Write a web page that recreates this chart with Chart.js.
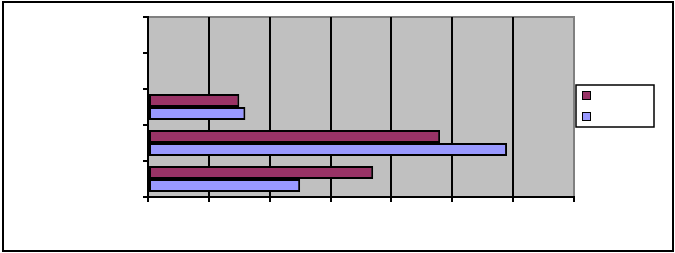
<!DOCTYPE html>
<html>
<head>
<meta charset="utf-8">
<script src="https://cdn.jsdelivr.net/npm/chart.js@4/dist/chart.umd.min.js"></script>
<style>
  html, body { margin: 0; padding: 0; background: #fff; }
  #wrap { width: 675px; height: 253px; }
</style>
</head>
<body>
<div id="wrap"><canvas id="chart" width="675" height="253"></canvas></div>
<script>
// Category slots (top to bottom); the reference shows no labels
var categories = ['', '', '', '', ''];
// Series values (x axis 0..7)
var series1 = [null, null, 1.5, 4.8, 3.7];
var series2 = [null, null, 1.6, 5.9, 2.5];
var seriesNames = ['', ''];
var xTicks = [0, 1, 2, 3, 4, 5, 6, 7];

var colors = ['#993366', '#9999FF'];

// Gray plot area, outer frame and legend box
var frame = {
    id: 'frame',
    beforeDraw: function (chart) {
        var ctx = chart.ctx, a = chart.chartArea;
        ctx.save();
        ctx.fillStyle = '#fff';
        ctx.fillRect(0, 0, chart.width, chart.height);
        ctx.fillStyle = '#C0C0C0';
        ctx.fillRect(a.left, a.top, a.right - a.left, a.bottom - a.top);
        ctx.strokeStyle = '#808080';
        ctx.lineWidth = 2;
        ctx.beginPath();
        ctx.moveTo(a.left, a.top);
        ctx.lineTo(a.right, a.top);
        ctx.lineTo(a.right, a.bottom);
        ctx.stroke();
        ctx.restore();
    },
    afterDraw: function (chart) {
        var ctx = chart.ctx;
        ctx.save();
        // outer border
        ctx.strokeStyle = '#000';
        ctx.lineWidth = 2;
        ctx.strokeRect(3, 2, 670, 249);
        // legend
        ctx.fillStyle = '#fff';
        ctx.fillRect(576, 85, 78, 42);
        ctx.lineWidth = 1.5;
        ctx.strokeRect(576, 85, 78, 42);
        var ys = [91, 112];
        for (var i = 0; i < ys.length; i++) {
            ctx.fillStyle = colors[i];
            ctx.fillRect(582, ys[i], 8, 8);
            ctx.lineWidth = 1;
            ctx.strokeRect(582.5, ys[i] + 0.5, 8, 8);
        }
        ctx.restore();
    }
};

new Chart(document.getElementById('chart'), {
    type: 'bar',
    data: {
        labels: categories,
        datasets: [
            { label: seriesNames[0], data: series1, backgroundColor: colors[0],
              borderColor: '#000', borderWidth: 2, borderSkipped: false },
            { label: seriesNames[1], data: series2, backgroundColor: colors[1],
              borderColor: '#000', borderWidth: 2, borderSkipped: false }
        ]
    },
    options: {
        indexAxis: 'y',
        responsive: false,
        animation: false,
        events: [],
        layout: { padding: { left: 0, top: 17, right: 101, bottom: 0 } },
        datasets: { bar: { categoryPercentage: 0.72, barPercentage: 1 } },
        scales: {
            x: {
                min: 0,
                max: 7,
                afterBuildTicks: function (scale) {
                    scale.ticks = xTicks.map(function (v) { return { value: v }; });
                },
                afterFit: function (scale) { scale.height = 56; },
                ticks: { callback: function () { return ''; } },
                grid: {
                    color: function (c) { return c.tick && c.tick.value === 7 ? '#808080' : '#000'; },
                    tickColor: '#000',
                    lineWidth: 2,
                    tickLength: 5
                },
                border: { color: '#000', width: 2 }
            },
            y: {
                afterFit: function (scale) { scale.width = 148; },
                ticks: { display: false },
                grid: {
                    drawOnChartArea: false,
                    color: '#000',
                    tickLength: 5,
                    lineWidth: 2,
                    offset: true
                },
                border: { color: '#000', width: 2 }
            }
        },
        plugins: {
            legend: { display: false },
            tooltip: { enabled: false }
        }
    },
    plugins: [frame]
});
</script>
</body>
</html>
